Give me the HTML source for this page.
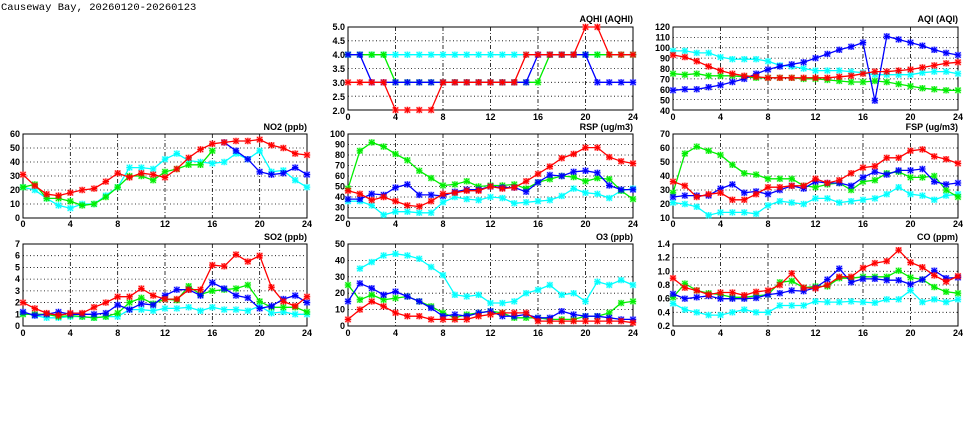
<!DOCTYPE html>
<html><head><meta charset="utf-8"><style>
html,body{margin:0;padding:0;background:#fff;width:975px;height:447px;overflow:hidden}
svg{display:block}
text{font-family:"Liberation Sans",Arial,sans-serif;font-size:9px;font-weight:bold;fill:#000}
.t{font-family:"Liberation Mono",monospace;font-size:10.5px;font-weight:normal}
.yl{text-anchor:end}.xl{text-anchor:middle}.ti{text-anchor:end}
</style></head><body>
<svg id="s" width="975" height="447" viewBox="0 0 975 447" xmlns="http://www.w3.org/2000/svg">
<rect width="975" height="447" fill="#fff"/>
<text class="t" x="1" y="10">Causeway Bay, 20260120-20260123</text>
<g id="plots"></g>
<!-- AQHI -->
<g transform="translate(348,27)">
<text class="ti" x="285" y="-5">AQHI (AQHI)</text>
<text class="yl" x="-3" y="3">5.0</text><text class="yl" x="-3" y="17">4.5</text><text class="yl" x="-3" y="31">4.0</text><text class="yl" x="-3" y="45">3.5</text><text class="yl" x="-3" y="59">3.0</text><text class="yl" x="-3" y="73">2.5</text><text class="yl" x="-3" y="87">2.0</text>
<text class="xl" x="0" y="93">0</text><text class="xl" x="47.5" y="93">4</text><text class="xl" x="95" y="93">8</text><text class="xl" x="142.5" y="93">12</text><text class="xl" x="190" y="93">16</text><text class="xl" x="237.5" y="93">20</text><text class="xl" x="285" y="93">24</text>
</g>
<!-- AQI -->
<g transform="translate(673,27)">
<text class="ti" x="285" y="-5">AQI (AQI)</text>
<text class="yl" x="-3" y="3">120</text><text class="yl" x="-3" y="13.5">110</text><text class="yl" x="-3" y="24">100</text><text class="yl" x="-3" y="34.5">90</text><text class="yl" x="-3" y="45">80</text><text class="yl" x="-3" y="55.5">70</text><text class="yl" x="-3" y="66">60</text><text class="yl" x="-3" y="76.5">50</text><text class="yl" x="-3" y="87">40</text>
<text class="xl" x="0" y="93">0</text><text class="xl" x="47.5" y="93">4</text><text class="xl" x="95" y="93">8</text><text class="xl" x="142.5" y="93">12</text><text class="xl" x="190" y="93">16</text><text class="xl" x="237.5" y="93">20</text><text class="xl" x="285" y="93">24</text>
</g>
<!-- NO2 -->
<g transform="translate(23,134)">
<text class="ti" x="284" y="-4">NO2 (ppb)</text>
<text class="yl" x="-3" y="3">60</text><text class="yl" x="-3" y="17">50</text><text class="yl" x="-3" y="31">40</text><text class="yl" x="-3" y="45">30</text><text class="yl" x="-3" y="59">20</text><text class="yl" x="-3" y="73">10</text><text class="yl" x="-3" y="87">0</text>
<text class="xl" x="0" y="93">0</text><text class="xl" x="47.3" y="93">4</text><text class="xl" x="94.7" y="93">8</text><text class="xl" x="142" y="93">12</text><text class="xl" x="189.3" y="93">16</text><text class="xl" x="236.7" y="93">20</text><text class="xl" x="284" y="93">24</text>
</g>
<!-- RSP -->
<g transform="translate(348,134)">
<text class="ti" x="285" y="-4">RSP (ug/m3)</text>
<text class="yl" x="-3" y="3">100</text><text class="yl" x="-3" y="13.5">90</text><text class="yl" x="-3" y="24">80</text><text class="yl" x="-3" y="34.5">70</text><text class="yl" x="-3" y="45">60</text><text class="yl" x="-3" y="55.5">50</text><text class="yl" x="-3" y="66">40</text><text class="yl" x="-3" y="76.5">30</text><text class="yl" x="-3" y="87">20</text>
<text class="xl" x="0" y="93">0</text><text class="xl" x="47.5" y="93">4</text><text class="xl" x="95" y="93">8</text><text class="xl" x="142.5" y="93">12</text><text class="xl" x="190" y="93">16</text><text class="xl" x="237.5" y="93">20</text><text class="xl" x="285" y="93">24</text>
</g>
<!-- FSP -->
<g transform="translate(673,134)">
<text class="ti" x="285" y="-4">FSP (ug/m3)</text>
<text class="yl" x="-3" y="3">70</text><text class="yl" x="-3" y="17">60</text><text class="yl" x="-3" y="31">50</text><text class="yl" x="-3" y="45">40</text><text class="yl" x="-3" y="59">30</text><text class="yl" x="-3" y="73">20</text><text class="yl" x="-3" y="87">10</text>
<text class="xl" x="0" y="93">0</text><text class="xl" x="47.5" y="93">4</text><text class="xl" x="95" y="93">8</text><text class="xl" x="142.5" y="93">12</text><text class="xl" x="190" y="93">16</text><text class="xl" x="237.5" y="93">20</text><text class="xl" x="285" y="93">24</text>
</g>
<!-- SO2 -->
<g transform="translate(23,244)">
<text class="ti" x="284" y="-4">SO2 (ppb)</text>
<text class="yl" x="-3" y="3">7</text><text class="yl" x="-3" y="14.7">6</text><text class="yl" x="-3" y="26.4">5</text><text class="yl" x="-3" y="38.1">4</text><text class="yl" x="-3" y="49.9">3</text><text class="yl" x="-3" y="61.6">2</text><text class="yl" x="-3" y="73.3">1</text><text class="yl" x="-3" y="85">0</text>
<text class="xl" x="0" y="92">0</text><text class="xl" x="47.3" y="92">4</text><text class="xl" x="94.7" y="92">8</text><text class="xl" x="142" y="92">12</text><text class="xl" x="189.3" y="92">16</text><text class="xl" x="236.7" y="92">20</text><text class="xl" x="284" y="92">24</text>
</g>
<!-- O3 -->
<g transform="translate(348,244)">
<text class="ti" x="285" y="-4">O3 (ppb)</text>
<text class="yl" x="-3" y="3">50</text><text class="yl" x="-3" y="19.4">40</text><text class="yl" x="-3" y="35.8">30</text><text class="yl" x="-3" y="52.2">20</text><text class="yl" x="-3" y="68.6">10</text><text class="yl" x="-3" y="85">0</text>
<text class="xl" x="0" y="92">0</text><text class="xl" x="47.5" y="92">4</text><text class="xl" x="95" y="92">8</text><text class="xl" x="142.5" y="92">12</text><text class="xl" x="190" y="92">16</text><text class="xl" x="237.5" y="92">20</text><text class="xl" x="285" y="92">24</text>
</g>
<!-- CO -->
<g transform="translate(673,244)">
<text class="ti" x="285" y="-4">CO (ppm)</text>
<text class="yl" x="-3" y="3">1.4</text><text class="yl" x="-3" y="16.7">1.2</text><text class="yl" x="-3" y="30.3">1.0</text><text class="yl" x="-3" y="44">0.8</text><text class="yl" x="-3" y="57.7">0.6</text><text class="yl" x="-3" y="71.3">0.4</text><text class="yl" x="-3" y="85">0.2</text>
<text class="xl" x="0" y="92">0</text><text class="xl" x="47.5" y="92">4</text><text class="xl" x="95" y="92">8</text><text class="xl" x="142.5" y="92">12</text><text class="xl" x="190" y="92">16</text><text class="xl" x="237.5" y="92">20</text><text class="xl" x="285" y="92">24</text>
</g>
</svg>
<script>
var N=null;
var C={c:"#00ffff",g:"#00ee00",b:"#0000ff",r:"#ff0000"};
var P=[
{x:348,y:27,w:285,h:83,min:2,max:5,n:6,d:{
c:[4,4,4,4,4,4,4,4,4,4,4,4,4,4,4,4,4,4,4,4,4,4,4,4,4],
g:[4,4,4,4,3,3,3,3,3,3,3,3,3,3,3,3,3,4,4,4,4,4,4,4,4],
b:[4,4,3,3,3,3,3,3,3,3,3,3,3,3,3,3,4,4,4,4,4,3,3,3,3],
r:[3,3,3,3,2,2,2,2,3,3,3,3,3,3,3,4,4,4,4,4,5,5,4,4,4]}},
{x:673,y:27,w:285,h:83,min:40,max:120,n:8,d:{
c:[97,97,95,95,91,89,89,89,87,83,82,80,78,78,78,77,76,74,74,74,74,76,77,77,75],
g:[75,74,75,73,73,73,72,71,71,71,71,70,70,69,68,67,67,68,67,65,63,61,60,59,59],
b:[59,60,60,62,64,67,70,75,79,82,84,86,90,94,98,101,105,49,111,108,105,102,98,95,93],
r:[93,91,87,82,78,75,73,72,71,71,71,71,71,71,72,73,75,77,77,78,79,81,83,85,86]}},
{x:23,y:134,w:284,h:84,min:0,max:60,n:6,d:{
c:[22,20,14,9,7,10,10,16,22,36,36,35,42,46,41,40,39,40,46,42,48,33,34,27,22],
g:[22,24,14,14,12,9,10,15,22,30,30,27,33,35,38,38,48,N,N,N,N,N,N,N,N],
b:[N,N,N,N,N,N,N,N,N,N,N,N,N,N,N,N,N,54,48,42,33,31,32,36,31],
r:[31,23,17,16,18,20,21,26,32,29,32,31,29,35,43,49,53,54,55,55,56,52,50,46,45]}},
{x:348,y:134,w:285,h:84,min:20,max:100,n:8,d:{
c:[36,36,32,23,26,26,25,25,35,40,38,37,40,39,34,35,36,37,41,48,44,43,39,46,48],
g:[48,84,92,88,81,75,65,58,51,52,55,50,51,51,52,48,54,57,60,59,55,58,57,46,38],
b:[38,38,43,42,49,52,42,42,41,45,47,47,50,49,49,45,54,61,60,64,65,63,51,47,47],
r:[46,43,37,40,36,32,31,36,43,44,46,46,50,48,49,55,62,69,77,81,87,87,78,74,72]}},
{x:673,y:134,w:285,h:84,min:10,max:70,n:6,d:{
c:[21,20,18,12,14,14,14,13,19,22,21,20,24,24,21,22,23,24,27,32,27,26,23,26,27],
g:[28,56,61,58,55,48,42,41,38,38,38,33,32,34,35,30,36,37,42,43,39,39,40,30,25],
b:[25,26,26,26,31,34,28,29,27,30,33,31,36,35,35,33,39,43,41,44,44,45,36,34,35],
r:[36,33,25,27,28,23,23,27,32,32,33,33,38,35,37,42,46,47,53,53,58,59,54,52,49]}},
{x:23,y:244,w:284,h:82,min:0,max:7,n:7,d:{
c:[1.1,.9,.7,.7,.8,.8,.7,.8,.8,1.4,1.4,1.3,1.5,1.5,1.6,1.3,1.6,1.4,1.4,1.3,1.7,1.1,1.2,1.0,1.0],
g:[1.0,1.0,1.0,.8,.9,.8,.7,.8,1.1,2.0,2.4,1.9,2.3,2.2,3.4,2.7,3.0,3.1,3.2,3.5,2.1,1.6,1.6,1.6,1.2],
b:[1.2,.9,1.0,1.2,1.0,1.0,1.0,1.1,1.8,1.4,1.9,1.8,2.6,3.1,3.1,2.6,3.7,3.2,2.6,2.4,1.5,1.7,2.3,2.6,2.0],
r:[2.0,1.5,1.1,.9,1.1,1.1,1.6,2.0,2.5,2.5,3.2,2.6,2.3,2.3,3.1,3.1,5.2,5.1,6.1,5.5,6.0,3.3,2.1,1.7,2.5]}},
{x:348,y:244,w:285,h:82,min:0,max:50,n:5,d:{
c:[N,35,39,43,44,43,41,36,31,19,18,19,14,14,15,20,22,25,19,20,15,27,25,28,25],
g:[25,16,19,16,17,18,15,12,8,5,7,8,9,8,5,5,5,4,4,4,6,6,8,14,15],
b:[15,26,23,19,21,18,15,11,6,7,6,8,9,6,6,7,5,5,9,7,6,6,5,4,4],
r:[4,10,15,12,8,6,6,4,4,4,4,6,7,8,8,8,3,3,3,3,3,3,3,3,2]}},
{x:673,y:244,w:285,h:82,min:.2,max:1.4,n:6,d:{
c:[.53,.44,.40,.36,.36,.40,.44,.40,.40,.50,.50,.50,.56,.55,.55,.56,.55,.54,.59,.59,.72,.55,.59,.55,.59],
g:[.62,.82,.72,.68,.66,.62,.62,.64,.66,.84,.86,.76,.78,.78,.90,.90,.92,.92,.92,1.01,.91,.88,.77,.70,.68],
b:[.67,.60,.62,.64,.60,.60,.60,.61,.66,.68,.72,.71,.76,.88,1.04,.84,.89,.89,.87,.87,.81,.88,1.01,.90,.91],
r:[.90,.76,.72,.66,.69,.69,.65,.70,.72,.80,.97,.76,.75,.80,.92,.92,1.05,1.12,1.15,1.31,1.13,1.06,.94,.85,.93]}}
];
var ns="http://www.w3.org/2000/svg",G=document.getElementById("plots"),h="";
P.forEach(function(p){
 h+='<g transform="translate('+p.x+','+p.y+')">';
 for(var k=1;k<p.n;k++){var yy=(p.h*k/p.n).toFixed(2);h+='<line x1="0" x2="'+p.w+'" y1="'+yy+'" y2="'+yy+'" stroke="#000" stroke-width="0.8" stroke-dasharray="1,2.5"/>';}
 for(var k=1;k<6;k++){var xx=(p.w*k/6).toFixed(2);h+='<line y1="0" y2="'+p.h+'" x1="'+xx+'" x2="'+xx+'" stroke="#000" stroke-width="0.8" stroke-dasharray="4,2,1,2"/>';}
 h+='<rect x="0" y="0" width="'+p.w+'" height="'+p.h+'" fill="none" stroke="#000" stroke-width="1"/>';
 h+='<svg x="-4" y="-4" width="'+(p.w+8)+'" height="'+(p.h+8)+'" overflow="hidden"><g transform="translate(4,4)">';
 ["c","g","b","r"].forEach(function(s){
  var a=p.d[s],col=C[s],seg="",pts=[];
  for(var i=0;i<a.length;i++){
   if(a[i]===null){seg+="|";continue;}
   var X=p.w*i/24,Y=p.h*(1-(a[i]-p.min)/(p.max-p.min));
   pts.push([X,Y]);
   seg+=(seg===""||seg.slice(-1)==="|"?"M":"L")+X.toFixed(1)+","+Y.toFixed(1)+" ";
  }
  h+='<path d="'+seg.replace(/\|/g,"")+'" fill="none" stroke="'+col+'" stroke-width="1.3"/>';
  pts.forEach(function(q){var X=q[0],Y=q[1],r=2.6;
   h+='<rect x="'+(X-3.2)+'" y="'+(Y-3.2)+'" width="6.4" height="6.4" fill="'+col+'" opacity="0.3"/>';
   h+='<path d="M'+(X-r)+','+(Y-r)+'L'+(X+r)+','+(Y+r)+'M'+(X-r)+','+(Y+r)+'L'+(X+r)+','+(Y-r)+'M'+X+','+(Y-r-.6)+'L'+X+','+(Y+r+.6)+'M'+(X-r-.6)+','+Y+'L'+(X+r+.6)+','+Y+'" stroke="'+col+'" stroke-width="1.1"/>';
  });
 });
 h+='</g></svg></g>';
});
G.innerHTML=h;
</script>
</body></html>
